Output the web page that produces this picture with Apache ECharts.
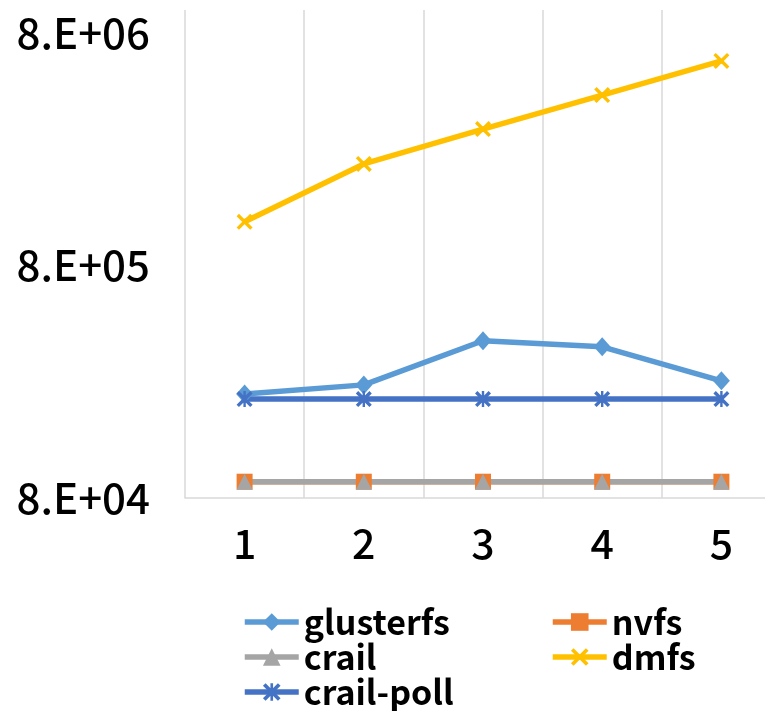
<!DOCTYPE html>
<html>
<head>
<meta charset="utf-8">
<script src="https://cdn.jsdelivr.net/npm/echarts@6/dist/echarts.min.js"></script>
<style>
html,body{margin:0;padding:0;background:#fff;}
#chart{width:765px;height:711px;}
</style>
</head>
<body>
<div id="chart"></div>
<script>
var categories = ['1', '2', '3', '4', '5'];
var glusterfs = [2.24e5, 2.45e5, 3.79e5, 3.57e5, 2.55e5];
var nvfs = [9.4e4, 9.4e4, 9.4e4, 9.4e4, 9.4e4];
var crail = [9.4e4, 9.4e4, 9.4e4, 9.4e4, 9.4e4];
var dmfs = [1.23e6, 2.18e6, 3.08e6, 4.31e6, 6.04e6];
var crailPoll = [2.13e5, 2.13e5, 2.13e5, 2.13e5, 2.13e5];
var yTickValues = [8e4, 8e5, 8e6];

var FONT = '"Noto Sans CJK SC", "Microsoft YaHei", sans-serif';
var X_PATH = 'path://M0,1.5L1.5,0L10,8.5L8.5,10Z M8.5,0L10,1.5L1.5,10L0,8.5Z';
var STAR_PATH = 'path://M0,1.5L1.5,0L10,8.5L8.5,10Z M8.5,0L10,1.5L1.5,10L0,8.5Z M4.25,0L5.75,0L5.75,10L4.25,10Z';

function sciLabel(v) {
  var e = Math.floor(Math.log10(v) + 1e-9);
  var m = Math.round(v / Math.pow(10, e));
  return m + '.E+' + (e < 10 ? '0' + e : '' + e);
}

function lineSeries(name, data, color, symbol, size) {
  return {
    name: name,
    type: 'line',
    data: data,
    symbol: symbol,
    symbolSize: size,
    showSymbol: true,
    lineStyle: {color: color, width: 5.5},
    itemStyle: {color: color},
    emphasis: {disabled: true},
    z: 2
  };
}

var legendText = {fontFamily: FONT, fontSize: 34, fontWeight: 'bold', color: '#000', lineHeight: 36};
function legendItem(name, left, top) {
  return {
    orient: 'horizontal', left: left, top: top, padding: 0,
    itemWidth: 54, itemHeight: 22,
    data: [name],
    textStyle: legendText, selectedMode: false,
    lineStyle: {width: 5.5}
  };
}

var chart = echarts.init(document.getElementById('chart'), null, {renderer: 'canvas'});
chart.setOption({
  animation: false,
  backgroundColor: '#fff',
  grid: {left: 185, right: -16, top: 10, bottom: 213, containLabel: false, outerBoundsMode: 'none'},
  xAxis: {
    type: 'category',
    data: categories,
    boundaryGap: true,
    axisLine: {show: true, lineStyle: {color: '#D9D9D9', width: 1.5}},
    axisTick: {show: false},
    splitLine: {show: true, lineStyle: {color: '#D9D9D9', width: 1.5}},
    axisLabel: {fontFamily: FONT, fontSize: 41, fontWeight: 500, color: '#000', margin: 25, interval: 0}
  },
  yAxis: {
    type: 'log',
    logBase: 10,
    min: 8e4,
    max: 1e7,
    axisLine: {show: false},
    axisTick: {show: false},
    splitLine: {show: false},
    axisLabel: {
      fontFamily: FONT, fontSize: 42, fontWeight: 500, color: '#000', margin: 35,
      padding: [0, 0, 6, 0],
      customValues: yTickValues,
      formatter: function (v) { return sciLabel(v); }
    }
  },
  legend: [
    legendItem('glusterfs', 242, 604),
    legendItem('crail', 242, 639),
    legendItem('crail-poll', 242, 674),
    legendItem('nvfs', 550, 604),
    legendItem('dmfs', 550, 639)
  ],
  series: [
    lineSeries('glusterfs', glusterfs, '#5B9BD5', 'diamond', [17, 19]),
    lineSeries('nvfs', nvfs, '#ED7D31', 'rect', 16),
    lineSeries('crail', crail, '#A5A5A5', 'triangle', 16),
    lineSeries('dmfs', dmfs, '#FFC000', X_PATH, 16),
    lineSeries('crail-poll', crailPoll, '#4472C4', STAR_PATH, 16)
  ]
});
</script>
</body>
</html>
